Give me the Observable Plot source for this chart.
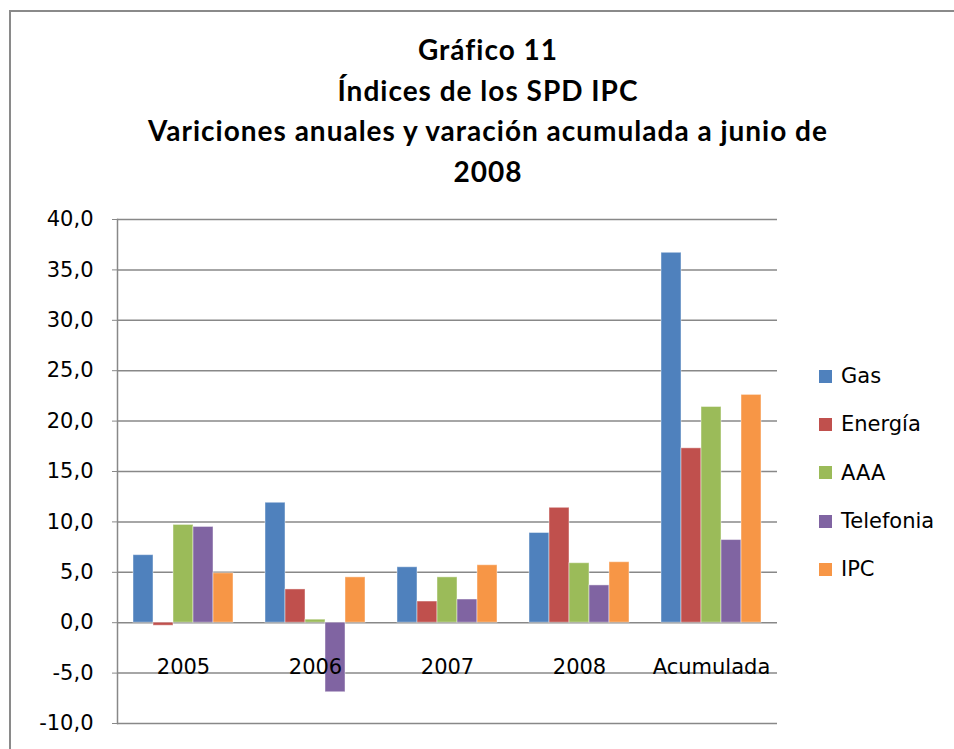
<!DOCTYPE html>
<html>
<head>
<meta charset="utf-8">
<script src="https://cdn.jsdelivr.net/npm/d3@7"></script>
<script src="https://cdn.jsdelivr.net/npm/@observablehq/plot@0.6"></script>
<style>
  body { margin: 0; background: #fff; }
  #wrap { position: relative; width: 954px; height: 749px; overflow: hidden; background: #fff; }
  #border { position: absolute; left: 9px; top: 10px; width: 2000px; height: 2000px;
            border-left: 2px solid #8a8a8a; border-top: 2px solid #8a8a8a; }
  #title { position: absolute; left: 10px; width: 956px; top: 29px; text-align: center;
           font-family: Lato, "Open Sans", sans-serif; font-weight: bold; font-size: 28px;
           letter-spacing: 1px; line-height: 40.5px; color: #000; }
  #chart { position: absolute; left: 0; top: 200px; }
  #legend { position: absolute; left: 819px; top: 352px; font-family: "DejaVu Sans", sans-serif;
            font-size: 21px; color: #000; }
  .item { height: 48.3px; display: flex; align-items: center; }
  .sw { width: 13px; height: 13px; margin-right: 9px; }
</style>
</head>
<body>
<div id="wrap">
  <div id="border"></div>
  <div id="title"></div>
  <div id="chart"></div>
  <div id="legend"></div>
</div>
<script>
const titleLines = ["Gráfico 11", "Índices de los SPD IPC", "Variciones anuales y varación acumulada a junio de", "2008"];
const categories = ["2005", "2006", "2007", "2008", "Acumulada"];
const series = ["Gas", "Energía", "AAA", "Telefonia", "IPC"];
const colors = ["#4F81BD", "#C0504D", "#9BBB59", "#8064A2", "#F79646"];
const gas = [6.7, 11.9, 5.5, 8.9, 36.7];
const energia = [-0.3, 3.3, 2.1, 11.4, 17.3];
const aaa = [9.7, 0.3, 4.5, 5.9, 21.4];
const telefonia = [9.5, -6.9, 2.3, 3.7, 8.2];
const ipc = [4.9, 4.5, 5.7, 6.0, 22.6];
const yTicks = [-10, -5, 0, 5, 10, 15, 20, 25, 30, 35, 40];

const seriesValues = [gas, energia, aaa, telefonia, ipc];
const rows = categories.flatMap((c, i) =>
  series.map((s, j) => ({category: c, series: s, value: seriesValues[j][i]})));

document.getElementById("title").innerHTML = titleLines.map(t => `<div>${t}</div>`).join("");

const fmt = d => d.toFixed(1).replace(".", ",");

const chart = Plot.plot({
  width: 954,
  height: 549,
  marginLeft: 117,
  marginRight: 177,
  marginTop: 19,
  marginBottom: 26,
  style: {fontFamily: "DejaVu Sans, sans-serif", fontSize: "21px", background: "transparent", overflow: "visible", color: "#000"},
  fx: {domain: categories, padding: 0, axis: null},
  x: {domain: series, paddingInner: 0, paddingOuter: 0.8, axis: null},
  y: {domain: [-10, 40], ticks: yTicks, label: null},
  color: {domain: series, range: colors},
  marks: [
    Plot.gridY(yTicks, {stroke: "#888", strokeOpacity: 1, strokeWidth: 1.5}),
    Plot.barY(rows, {fx: "category", x: "series", y: "value", fill: "series",
                     stroke: "#fff", strokeOpacity: 0.45, strokeWidth: 1}),
    Plot.text(categories, {fx: d => d, text: d => d, y: d => 0, dy: 45, fontSize: 21, fill: "#000"}),
    Plot.frame({anchor: "left", facetAnchor: "left", stroke: "#888", strokeWidth: 1.5}),
    Plot.axisY(yTicks, {tickFormat: fmt, tickSize: 5, tickPadding: 19, stroke: "#888",
                        fill: "#000", fontSize: 21, label: null})
  ]
});
document.getElementById("chart").appendChild(chart);

document.getElementById("legend").innerHTML = series.map((s, i) =>
  `<div class="item"><div class="sw" style="background:${colors[i]}"></div><span>${s}</span></div>`).join("");
</script>
</body>
</html>
